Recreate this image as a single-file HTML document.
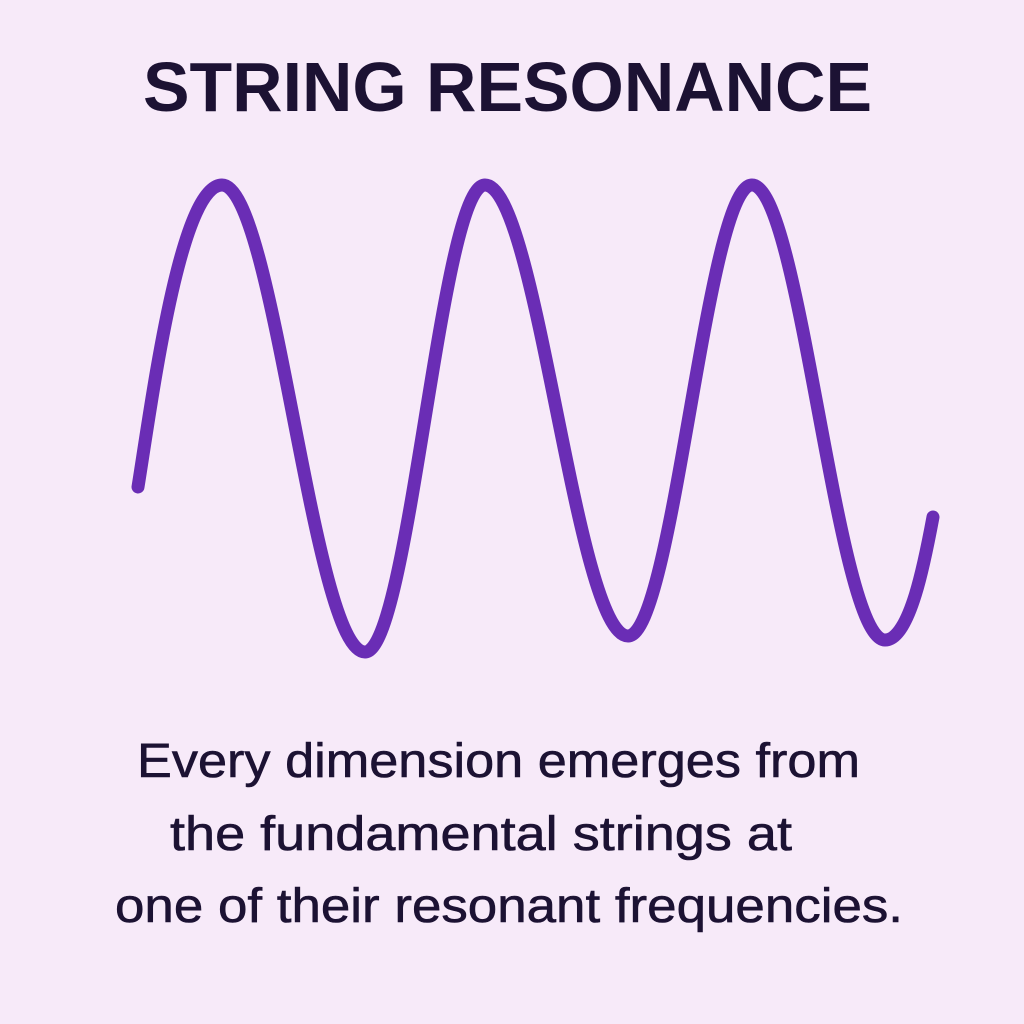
<!DOCTYPE html>
<html><head><meta charset="utf-8"><style>
html,body{margin:0;padding:0;background:#f7eaf9;}
svg{display:block}
</style></head><body>
<svg width="1024" height="1024" viewBox="0 0 1024 1024" xmlns="http://www.w3.org/2000/svg">
<rect width="1024" height="1024" fill="#f7eaf9"/>
<text x="143" y="111" font-family="Liberation Sans, sans-serif" font-weight="bold" font-size="70" fill="#1c1233" textLength="729" lengthAdjust="spacingAndGlyphs">STRING RESONANCE</text>
<path d="M138,487 C152,400 180,185 222,185 C274,185 313,652 365,652 C409,652 441,185 485,185 C537,185 576,636 628,636 C673,636 707,185 752,185 C800,185 837,640 885,640 C910,640 925,560 933,517" fill="none" stroke="#6a2db5" stroke-width="13" stroke-linecap="round" stroke-linejoin="round"/>
<g font-family="Liberation Sans, sans-serif" font-size="48" fill="#1c1233" stroke="#1c1233" stroke-width="0.6">
<text x="137" y="777" textLength="723" lengthAdjust="spacingAndGlyphs">Every dimension emerges from</text>
<text x="170" y="850" textLength="622" lengthAdjust="spacingAndGlyphs">the fundamental strings at</text>
<text x="115" y="922" textLength="788" lengthAdjust="spacingAndGlyphs">one of their resonant frequencies.</text>
</g>
</svg>
</body></html>
